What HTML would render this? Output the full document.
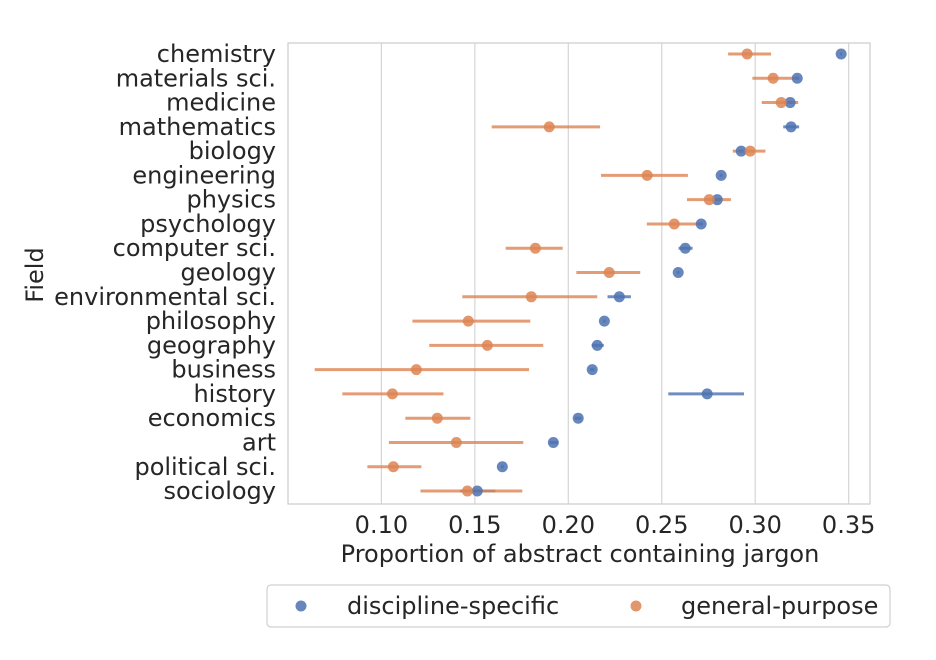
<!DOCTYPE html>
<html><head><meta charset="utf-8"><style>
body{margin:0;background:#fff;width:936px;height:656px;overflow:hidden;font-family:"DejaVu Sans","Liberation Sans",sans-serif}
</style></head><body>
<svg id="chart" width="936" height="656" xmlns="http://www.w3.org/2000/svg" font-family="DejaVu Sans, Liberation Sans, sans-serif"></svg>
<script>
const fields=["chemistry","materials sci.","medicine","mathematics","biology","engineering","physics","psychology","computer sci.","geology","environmental sci.","philosophy","geography","business","history","economics","art","political sci.","sociology"];
const discVal=[0.346,0.3225,0.3187,0.3192,0.2925,0.2818,0.2797,0.2711,0.2626,0.2588,0.2273,0.2193,0.2155,0.2128,0.2743,0.2053,0.192,0.1647,0.1513];
const discLo=[0.3455,0.3215,0.3180,0.3150,0.2915,0.2810,0.2785,0.2700,0.2590,0.2580,0.2210,0.2185,0.2125,0.2115,0.2535,0.2035,0.1900,0.1640,0.1420];
const discHi=[0.3465,0.3235,0.3195,0.3235,0.2935,0.2825,0.2810,0.2720,0.2665,0.2595,0.2335,0.2200,0.2190,0.2140,0.2940,0.2070,0.1945,0.1655,0.1610];
const genVal=[0.2957,0.3096,0.3139,0.1898,0.2973,0.2422,0.2754,0.2567,0.1824,0.2219,0.1802,0.1465,0.1567,0.1187,0.1059,0.1299,0.1401,0.1064,0.146];
const genLo=[0.2855,0.2985,0.3035,0.1590,0.2880,0.2175,0.2635,0.2420,0.1665,0.2043,0.1433,0.1166,0.1256,0.0643,0.0791,0.1128,0.1040,0.0925,0.1209];
const genHi=[0.3085,0.3225,0.3230,0.2170,0.3055,0.2640,0.2870,0.2705,0.1970,0.2385,0.2155,0.1797,0.1866,0.1790,0.1332,0.1476,0.1759,0.1214,0.1754];
const xTicks=[0.10,0.15,0.20,0.25,0.30,0.35];
const NS="http://www.w3.org/2000/svg";
const svg=document.getElementById('chart');
const L=288,R=870,T=43,B=504;
const x=v=>381.4+(v-0.1)*1869;
const y=i=>54+i*24.28;
function mk(tag,attrs,parent){const e=document.createElementNS(NS,tag);for(const k in attrs)e.setAttribute(k,attrs[k]);(parent||svg).appendChild(e);return e;}
xTicks.forEach((t,i)=>{
  const g=mk('line',{x1:x(t),x2:x(t),y1:T,y2:B,stroke:'#d5d5d5','stroke-width':1.2});
  
  
  const tx=mk('text',{x:x(t),y:533,'text-anchor':'middle','font-size':24,fill:'#262626'});
  tx.textContent=t.toFixed(2);
  
  
});
const frame=mk('rect',{x:L,y:T,width:R-L,height:B-T,fill:'none',stroke:'#cccccc','stroke-width':1.2});


fields.forEach((f,i)=>{
  const t=mk('text',{x:276,y:y(i)+8,'text-anchor':'end','font-size':24,fill:'#262626'});
  t.textContent=f;
  
  
  const bl=mk('line',{x1:x(discLo[i]),x2:x(discHi[i]),y1:y(i),y2:y(i),stroke:'#4c72b0','stroke-width':3,opacity:0.8});
  
  
  const ol=mk('line',{x1:x(genLo[i]),x2:x(genHi[i]),y1:y(i),y2:y(i),stroke:'#dd8452','stroke-width':3,opacity:0.8});
  
  
  const bc=mk('circle',{cx:x(discVal[i]),cy:y(i),r:5.5,fill:'#4c72b0',opacity:0.85});
  
  
  const oc=mk('circle',{cx:x(genVal[i]),cy:y(i),r:5.5,fill:'#dd8452',opacity:0.85});
  
  
});
const xl=mk('text',{x:580,y:562,'text-anchor':'middle','font-size':24,fill:'#262626'});
xl.textContent='Proportion of abstract containing jargon';


const yl=mk('text',{x:0,y:0,'text-anchor':'middle','font-size':24,fill:'#262626',transform:'translate(43,275) rotate(-90)'});
yl.textContent='Field';


const lg=mk('rect',{x:267,y:585,width:623,height:42,rx:4,fill:'#fff',stroke:'#d0d0d0','stroke-width':1.2});


const lb=mk('circle',{cx:301,cy:606,r:5.5,fill:'#4c72b0',opacity:0.85});


const lt1=mk('text',{x:347,y:614,'font-size':24,fill:'#262626'});
lt1.textContent='discipline-specific';


const lo=mk('circle',{cx:636,cy:606,r:5.5,fill:'#dd8452',opacity:0.85});


const lt2=mk('text',{x:681,y:614,'font-size':24,fill:'#262626'});
lt2.textContent='general-purpose';


</script>
</body></html>
